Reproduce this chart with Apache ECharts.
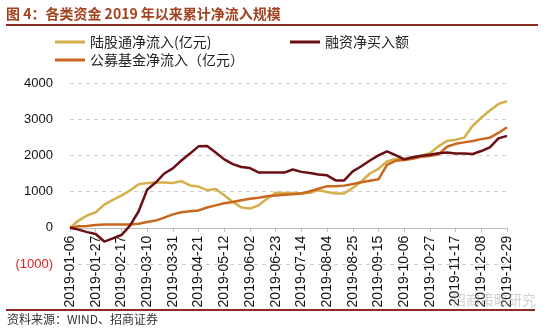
<!DOCTYPE html>
<html>
<head>
<meta charset="utf-8">
<script src="https://cdn.jsdelivr.net/npm/echarts@6/dist/echarts.min.js"></script>
<style>html,body{margin:0;padding:0;background:#fff;}#c{width:550px;height:328px;}</style>
</head>
<body>
<div id="c"></div>
<script>
var dates = ['2019-01-06','2019-01-13','2019-01-20','2019-01-27','2019-02-03','2019-02-10','2019-02-17','2019-02-24',
'2019-03-03','2019-03-10','2019-03-17','2019-03-24','2019-03-31','2019-04-07','2019-04-14','2019-04-21','2019-04-28',
'2019-05-05','2019-05-12','2019-05-19','2019-05-26','2019-06-02','2019-06-09','2019-06-16','2019-06-23','2019-06-30',
'2019-07-07','2019-07-14','2019-07-21','2019-07-28','2019-08-04','2019-08-11','2019-08-18','2019-08-25',
'2019-09-01','2019-09-08','2019-09-15','2019-09-22','2019-09-29','2019-10-06','2019-10-13','2019-10-20','2019-10-27',
'2019-11-03','2019-11-10','2019-11-17','2019-11-24','2019-12-01','2019-12-08','2019-12-15','2019-12-22','2019-12-29'];

var northbound = [0,200,340,430,640,770,890,1030,1200,1240,1250,1250,1240,1290,1170,1140,1040,1070,900,
715,560,530,620,805,970,960,960,945,970,1040,990,950,950,
1100,1280,1500,1630,1830,1900,1910,1950,1990,2060,2250,2400,2430,2490,2820,3040,3240,3420,3500];

var margin = [0,-50,-120,-170,-380,-290,-200,60,450,1050,1250,1500,1640,1860,2050,2250,2260,2080,1890,
1760,1680,1650,1530,1525,1525,1525,1610,1545,1515,1470,1450,1310,1310,
1560,1700,1860,2000,2110,2010,1890,1950,1990,2020,2060,2080,2050,2050,2040,2120,2220,2470,2540];

var funds = [0,40,50,80,90,90,90,90,110,160,200,280,370,430,460,480,560,620,680,
715,760,805,830,870,890,915,925,945,1010,1080,1150,1150,1165,
1210,1260,1300,1340,1740,1850,1870,1910,1960,1980,2030,2240,2320,2360,2400,2450,2490,2620,2780];

var names = ['陆股通净流入(亿元)','融资净买入额','公募基金净流入（亿元）'];
var colors = ['#D4AF4A','#6B0F14','#C9671F'];
var yTicks = {min:-1000, max:4000, interval:1000};

var gridTop = 83, gridBottom = 64, H = 328;
var plotH = H - gridTop - gridBottom;
// shift the x axis (line, ticks, labels) up to the zero level of the y axis
var zeroOffset = -plotH * (0 - yTicks.min) / (yTicks.max - yTicks.min);

var chart = echarts.init(document.getElementById('c'));
var font = '"Liberation Sans", Arial, sans-serif';
var cjk = '"Noto Sans CJK SC", sans-serif';
function legendItem(name, left, top){
  return {data:[name], left:left, top:top, padding:0, icon:'rect', itemWidth:30, itemHeight:3,
    textStyle:{fontSize:14, color:'#222', fontFamily:cjk}};
}
chart.setOption({
  animation:false,
  color: colors,
  title:{text:'图 4：各类资金 2019 年以来累计净流入规模', left:6, top:7, padding:0,
    textStyle:{fontSize:14, fontWeight:'bold', color:'#A2421F', fontFamily:cjk}},
  legend:[legendItem(names[0],55,35), legendItem(names[1],290,35), legendItem(names[2],55,53)],
  grid:{left:70, right:43, top:gridTop, bottom:gridBottom, containLabel:false, outerBoundsMode:'none'},
  xAxis:{type:'category', data:dates, boundaryGap:false, offset:zeroOffset,
    axisLine:{onZero:false, lineStyle:{color:'#bbb', width:1}},
    axisTick:{show:true, interval:2, length:4, lineStyle:{color:'#bbb'}},
    axisLabel:{interval:2, rotate:90, fontSize:14, color:'#111', fontFamily:font, margin:8, hideOverlap:false},
    splitLine:{show:false}},
  yAxis:{type:'value', min:yTicks.min, max:yTicks.max, interval:yTicks.interval,
    axisLine:{show:false}, axisTick:{show:false},
    axisLabel:{fontSize:13, fontFamily:font, margin:17,
      formatter:function(v){return v<0?'('+Math.abs(v)+')':String(v);},
      color:function(v){return Number(v)<0?'#E02020':'#111';}},
    splitLine:{lineStyle:{type:[4,4], color:'#cfcfcf'}}},
  series:[
    {name:names[0], type:'line', data:northbound, symbol:'none', lineStyle:{width:2.5, color:colors[0]}, z:3},
    {name:names[1], type:'line', data:margin, symbol:'none', lineStyle:{width:2.5, color:colors[1]}, z:4},
    {name:names[2], type:'line', data:funds, symbol:'none', lineStyle:{width:2.5, color:colors[2]}, z:3}
  ],
  graphic:[
    {type:'line', shape:{x1:6,y1:25,x2:538,y2:25}, style:{stroke:'#8E2B22', lineWidth:2}},
    {type:'line', shape:{x1:6,y1:310,x2:535,y2:310}, style:{stroke:'#8E2B22', lineWidth:2}},
    {type:'text', left:7, top:313, style:{text:'资料来源：WIND、招商证券', fontSize:12, fill:'#333', fontFamily:cjk}},
    {type:'text', left:452, top:293, z:10, style:{text:'招商策略研究', fontSize:14, fill:'rgba(150,150,150,0.45)', fontFamily:cjk}}
  ]
});
</script>
</body>
</html>
